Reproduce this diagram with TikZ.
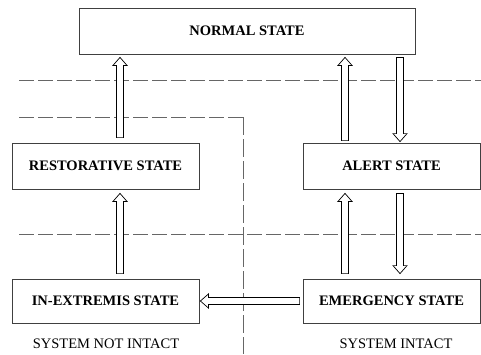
\documentclass[tikz,border=0pt]{standalone}
\usepackage{fontspec}
\setmainfont{Liberation Serif}
\usepackage{tikz}
\usetikzlibrary{calc}

\begin{document}
\begin{tikzpicture}[
    x=1pt, y=-1pt,
    state/.style={draw=black!75, line width=0.8pt, inner sep=0pt, minimum height=46pt,
        font=\fontsize{14.5}{16}\selectfont\bfseries},
    note/.style={font=\fontsize{14.5}{16}\selectfont},
    border/.style={draw=black!60, line width=1pt, dash pattern=on 15pt off 4pt},
    hollow/.style={draw, fill=white, line width=0.7pt, to path={
        ($(\tikztostart)!3.5pt!90:(\tikztotarget)$)
        -- ($(\tikztotarget)!8pt!(\tikztostart)!3.5pt!90:(\tikztotarget)$)
        -- ($(\tikztotarget)!8pt!(\tikztostart)!7pt!90:(\tikztotarget)$)
        -- (\tikztotarget)
        -- ($(\tikztotarget)!8pt!(\tikztostart)!7pt!-90:(\tikztotarget)$)
        -- ($(\tikztotarget)!8pt!(\tikztostart)!3.5pt!-90:(\tikztotarget)$)
        -- ($(\tikztostart)!3.5pt!-90:(\tikztotarget)$)
        -- cycle}},
]
\useasboundingbox (0,0) rectangle (481,354);

% Security regions
\draw[border] (19,80) -- (481,80);
\draw[border] (19,234) -- (481,234);
\draw[border] (19,117) -- (243,117);
\draw[border, dash pattern=on 18pt off 4pt] (243,117) -- (243,354);

% The states
\node[state, minimum width=336pt] (norm) at (247,31) {NORMAL STATE};
\node[state, minimum width=187pt] (rest) at (105.5,166) {RESTORATIVE STATE};
\node[state, minimum width=177pt] (alert) at (391.5,166) {ALERT STATE};
\node[state, minimum width=187pt, minimum height=44pt] (extr) at (105.5,301) {IN-EXTREMIS STATE};
\node[state, minimum width=177pt, minimum height=44pt] (emerg) at (391.5,301) {EMERGENCY STATE};

\node[note] (notintact) at (106,344) {SYSTEM NOT INTACT};
\node[note] (intact) at (396,344) {SYSTEM INTACT};

% Transitions
\draw[hollow] ([xshift=14.5pt,yshift=5pt]rest.north) to ([xshift=-127pt,yshift=-3pt]norm.south);
\draw[hollow] ([xshift=-46.5pt,yshift=2pt]alert.north) to ([xshift=98pt,yshift=-3pt]norm.south);
\draw[hollow] ([xshift=153pt,yshift=-3pt]norm.south) to ([xshift=8.5pt,yshift=1pt]alert.north);
\draw[hollow] ([xshift=14.5pt,yshift=5pt]extr.north) to ([xshift=14.5pt,yshift=-4pt]rest.south);
\draw[hollow] ([xshift=-46.5pt,yshift=5pt]emerg.north) to ([xshift=-46.5pt,yshift=-4pt]alert.south);
\draw[hollow] ([xshift=8.5pt,yshift=-4pt]alert.south) to ([xshift=8.5pt,yshift=5pt]emerg.north);
\draw[hollow] ([xshift=-3pt]emerg.west) to ([xshift=1pt]extr.east);

\end{tikzpicture}
\end{document}
